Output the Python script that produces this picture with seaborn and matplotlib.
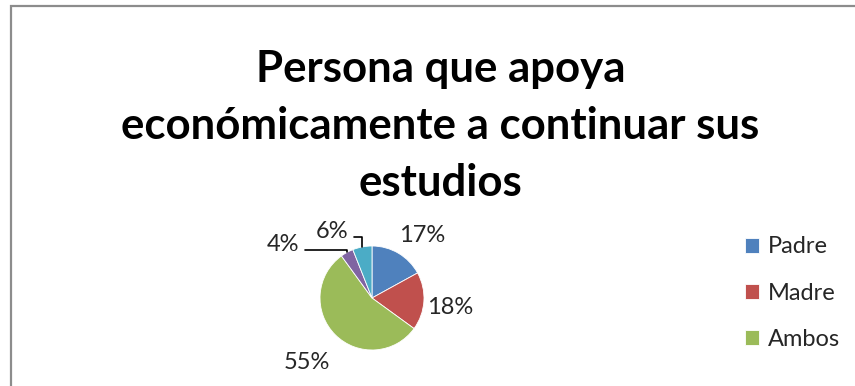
import numpy as np
import matplotlib
matplotlib.use("Agg")
import matplotlib.pyplot as plt
import seaborn as sns
from matplotlib.patches import Rectangle

categorias = ["Padre", "Madre", "Ambos", "Hermanos", "Otros"]
porcentajes = [17, 18, 55, 4, 6]
colores = ["#4F81BD", "#C0504D", "#9BBB59", "#8064A2", "#4BACC6"]
titulo = "Persona que apoya\neconómicamente a continuar sus\nestudios"

sns.set_theme(style="white")
plt.rcParams["font.family"] = ["Lato", "DejaVu Sans"]

W, H = 855, 386
fig = plt.figure(figsize=(W / 100, H / 100), dpi=100)
# chart frame (right and bottom edges lie outside the picture)
fig.patches.append(Rectangle((11 / W, -0.05), 1.0, 1.05 - 6 / H, transform=fig.transFigure,
                             fill=False, edgecolor="#8c8c8c", linewidth=1.6))

fig.text(0.515, 1 - 126 / H, titulo, ha="center", va="center", fontsize=31.5,
         fontweight="bold", linespacing=1.52, color="black")

# pie axes: 52 px per data unit
cx, cy, r = 372, H - 298, 52
ax = fig.add_axes([(cx - 100) / W, 0, 200 / W, 2 * cy / H])
wedges, _ = ax.pie(porcentajes, colors=colores, startangle=90, counterclock=False,
                   radius=1, wedgeprops=dict(edgecolor="white", linewidth=0.6))
ax.set_xlim(-100 / r, 100 / r)
ax.set_ylim(-cy / r, cy / r)
ax.set_aspect("auto")
ax.axis("off")

# label placement: distance from centre, extra shift (data units)
dist = [1.55, 1.5, 1.76, 1.5, 1.45]
extra = [(0.17, -0.13), (0.0, -0.08), (0.0, 0.0), (-0.99, -0.29), (-0.5, -0.15)]
for i, w in enumerate(wedges):
    ang = np.deg2rad((w.theta1 + w.theta2) / 2)
    x = dist[i] * np.cos(ang) + extra[i][0]
    y = dist[i] * np.sin(ang) + extra[i][1]
    lab = f"{porcentajes[i]}%"
    if i >= 3:
        px, py = np.cos(ang), np.sin(ang)
        ax.annotate(lab, xy=(px, py), xytext=(x, y), fontsize=17, ha="center", va="center",
                    arrowprops=dict(arrowstyle="-", color="black", lw=1.2,
                                    shrinkA=2, shrinkB=0, relpos=(1.0, 0.25),
                                    connectionstyle="angle,angleA=0,angleB=90,rad=0"))
    else:
        ax.text(x, y, lab, fontsize=17, ha="center", va="center")

fig.legend(wedges[:3], categorias[:3], loc="center left", bbox_to_anchor=(0.860, 1 - 293 / H),
           frameon=False, fontsize=17, labelspacing=1.06, handlelength=0.62,
           handleheight=0.62, handletextpad=0.35, borderaxespad=0)

fig.savefig("out.png", dpi=100)
